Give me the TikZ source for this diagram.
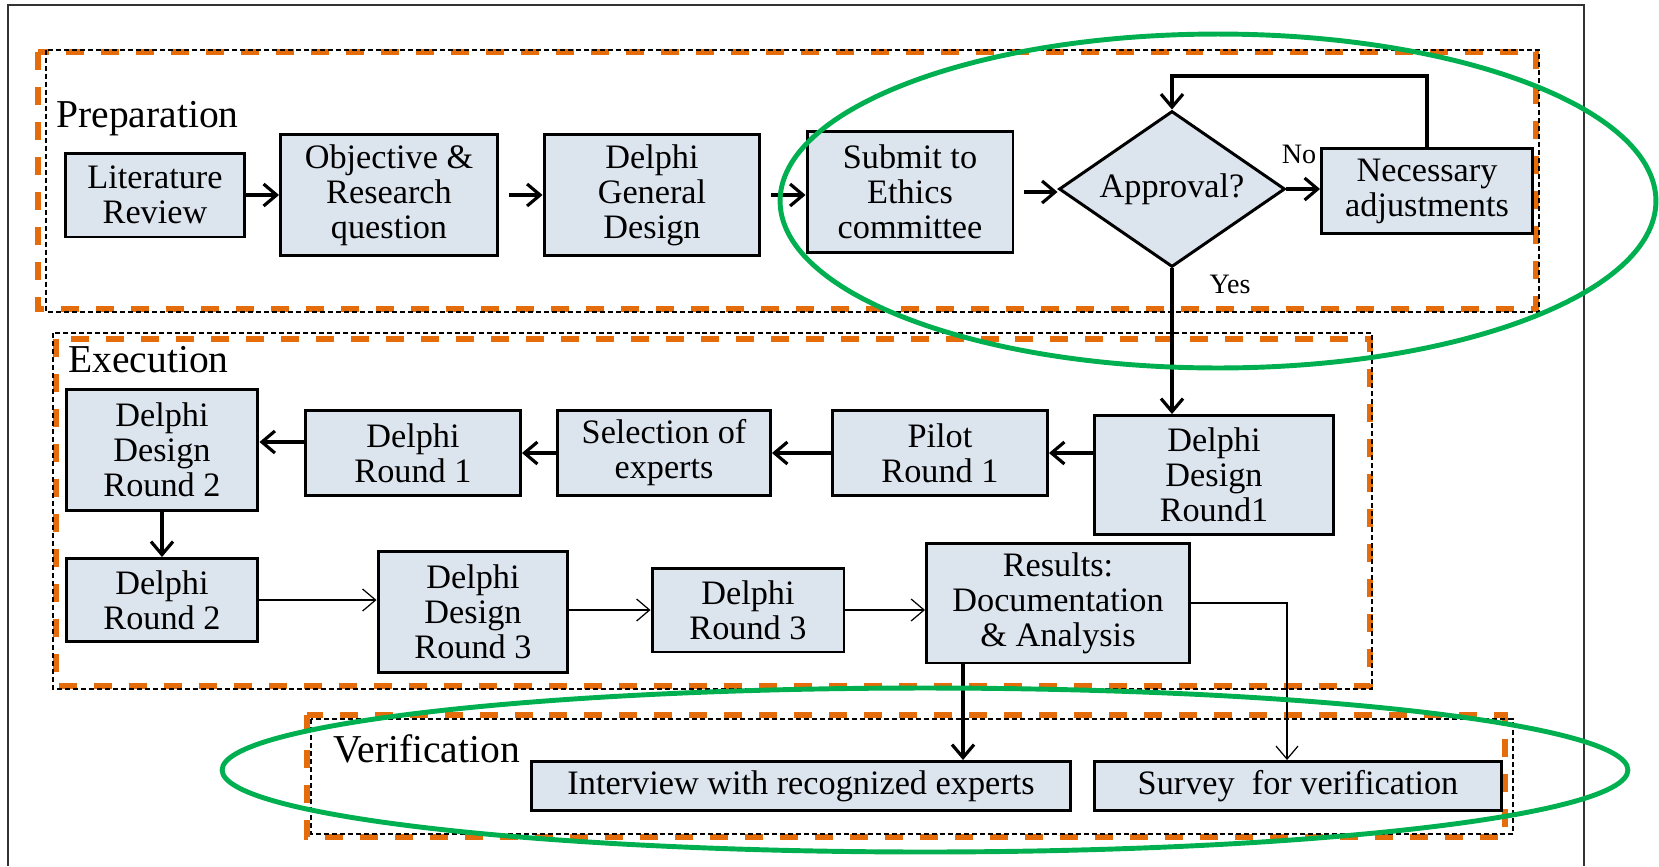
\documentclass[tikz,border=0pt]{standalone}
\usepackage{fontspec}
\setmainfont{Liberation Serif}
\usetikzlibrary{arrows.meta,shapes.geometric}
\definecolor{stageorange}{RGB}{228,108,10}
\definecolor{focusgreen}{RGB}{0,176,80}
\definecolor{taskfill}{RGB}{220,228,238}
\tikzset{
    >={Straight Barb[length=2.6mm,width=4.4mm]},
    flow/.style={
        x=0.02cm,y=-0.02cm,
        task/.append style={align=center,draw,line width=1.7pt,fill=taskfill,inner sep=0pt,font=\fontsize{19.5}{20}\selectfont},
        decision/.append style={align=center,draw,line width=1.7pt,fill=taskfill,diamond,aspect=1.45,inner sep=0pt,font=\fontsize{19.5}{20}\selectfont},
        stageframe/.append style={draw=stageorange,line width=3pt,dash pattern=on 0.36cm off 0.34cm},
        stageline/.append style={draw,line width=1pt,dash pattern=on 0.1cm off 0.06cm},
        stagename/.append style={anchor=west,inner sep=0pt,font=\fontsize{22.5}{24}\selectfont},
        answer/.append style={inner sep=0pt,font=\fontsize{16}{18}\selectfont},
        focus/.append style={draw=focusgreen,line width=2.8pt},
        strong/.append style={->,line width=1.8pt},
        faint/.append style={->,line width=0.7pt},
        every edge/.append style={draw}
    }
}

\begin{document}
\begin{tikzpicture}[flow]
    \useasboundingbox (0,0) rectangle (1659,866);
    \draw[line width=0.8pt,black!80] (8,866) -- (8,5) -- (1584,5) -- (1584,866);

    % stages
    \draw[stageframe] (38,52) rectangle (1536,309);
    \draw[stageline] (46,50) rectangle (1539,312);
    \draw[stageframe] (56,339) rectangle (1370,686);
    \draw[stageline] (53,333) rectangle (1372,689);
    \draw[stageframe] (307,715) rectangle (1505,837);
    \draw[stageline] (311,719) rectangle (1513,834);
    \node[stagename] (prep) at (56,119) {Preparation};
    \node[stagename] (exec) at (68,360) {Execution};
    \node[stagename] (veri) at (333,749) {Verification};

    % preparation
    \node[task,minimum width=3.6cm,minimum height=1.68cm] (lit) at (155,195) {Literature\\Review};
    \node[task,minimum width=4.34cm,minimum height=2.42cm] (obj) at (389,195) {Objective \&\\Research\\question};
    \node[task,minimum width=4.32cm,minimum height=2.42cm] (gen) at (652,195) {Delphi\\General\\Design};
    \node[task,minimum width=4.12cm,minimum height=2.42cm] (eth) at (910,192) {Submit to\\Ethics\\committee};
    \node[decision,minimum width=4.52cm,minimum height=3.12cm] (appr) at (1172,189) {Approval?};
    \node[task,minimum width=4.22cm,minimum height=1.7cm] (adj) at (1427,191) {Necessary\\adjustments};
    \node[answer] (no) at (1299,154) {No};
    \node[answer] (yes) at (1230,284) {Yes};
    \coordinate (back) at (1172,76);

    \path (lit) edge[strong] (obj)
          (obj) edge[strong,shorten <=0.2cm] (gen)
          (gen) edge[strong,shorten <=0.2cm] (gen -| eth.west)
          (eth) edge[strong,shorten <=0.2cm] (eth -| appr.west)
          (appr.east) edge[strong] (appr.east -| adj.west);
    \draw[strong] (adj.north) |- (back) -- (appr.north);

    % execution
    \node[task,minimum width=4.78cm,minimum height=2.38cm] (ddr1) at (1214,475) {Delphi\\Design\\Round1};
    \node[task,minimum width=4.3cm,minimum height=1.7cm] (pil) at (940,453) {Pilot\\Round 1};
    \node[task,minimum width=4.26cm,minimum height=1.7cm] (sel) at (664,453) {Selection of\\experts};
    \node[task,minimum width=4.3cm,minimum height=1.7cm] (dr1) at (413,453) {Delphi\\Round 1};
    \node[task,minimum width=3.84cm,minimum height=2.42cm] (ddr2) at (162,450) {Delphi\\Design\\Round 2};
    \node[task,minimum width=3.84cm,minimum height=1.66cm] (dr2) at (162,600) {Delphi\\Round 2};
    \node[task,minimum width=3.8cm,minimum height=2.42cm] (ddr3) at (473,612) {Delphi\\Design\\Round 3};
    \node[task,minimum width=3.84cm,minimum height=1.68cm] (dr3) at (748,610) {Delphi\\Round 3};
    \node[task,minimum width=5.26cm,minimum height=2.4cm] (res) at (1058,603) {Results:\\Documentation\\\& Analysis};
    \coordinate (r1out) at ([yshift=0.22cm]dr1.west);
    \coordinate (resout) at ([xshift=-1.9cm]res.south);

    \draw[strong] (appr.south) -- (appr.south |- ddr1.north);
    \draw[strong] (ddr1.west |- pil) -- (pil);
    \path (pil) edge[strong] (sel)
          (sel) edge[strong] (dr1)
          (ddr2) edge[strong] (dr2);
    \draw[strong] (r1out) -- (r1out -| ddr2.east);
    \draw[faint] (dr2.east) -- (dr2.east -| ddr3.west);
    \draw[faint] (ddr3.east |- dr3.west) -- (dr3.west);
    \draw[faint] (dr3.east) -- (dr3.east -| res.west);

    % verification
    \node[task,minimum width=10.78cm,minimum height=0.98cm] (intv) at (801,786) {Interview with recognized experts};
    \node[task,minimum width=8.16cm,minimum height=0.98cm] (surv) at (1298,786) {Survey~ for verification};
    \draw[strong] (resout) -- (resout |- intv.north);
    \draw[faint] (res.east) -| ([xshift=-0.22cm]surv.north);

    % highlighted parts
    \draw[focus] (1218,201) ellipse [x radius=8.76cm,y radius=3.34cm];
    \draw[focus] (925,770) ellipse [x radius=14.06cm,y radius=1.64cm];
\end{tikzpicture}
\end{document}
